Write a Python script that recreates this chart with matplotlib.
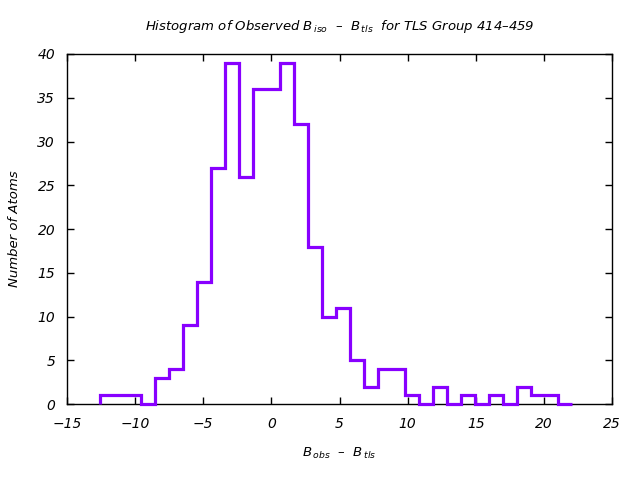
import numpy as np
import matplotlib
matplotlib.use("Agg")
import matplotlib.pyplot as plt

plt.rcParams['font.family'] = ['DejaVu Sans']
plt.rcParams['mathtext.fontset'] = 'dejavusans'
plt.rcParams['mathtext.default'] = 'it'

bin_start = -12.6
bin_width = 1.02
counts = [1, 1, 1, 0, 3, 4, 9, 14, 27, 39, 26, 36, 36, 39, 32, 18, 10, 11, 5, 2,
          4, 4, 1, 0, 2, 0, 1, 0, 1, 0, 2, 1, 1, 0]
edges = bin_start + bin_width * np.arange(len(counts) + 1)

x_ticks = [-15, -10, -5, 0, 5, 10, 15, 20, 25]
y_ticks = [0, 5, 10, 15, 20, 25, 30, 35, 40]

fig = plt.figure(figsize=(6.4, 4.8), dpi=100)
ax = fig.add_axes([0.1047, 0.158, 0.8516, 0.7295])

ax.stairs(counts, edges, baseline=0, color='#8800ff', linewidth=2.3, zorder=4,
          clip_on=False)

ax.set_xlim(-15, 25)
ax.set_ylim(0, 40)
ax.set_xticks(x_ticks)
ax.set_yticks(y_ticks)
ax.tick_params(direction='in', top=True, right=True, length=5, width=1,
               labelsize=10)
ax.tick_params(axis='x', pad=9)
ax.tick_params(axis='y', pad=8.5)
for lab in ax.get_xticklabels() + ax.get_yticklabels():
    lab.set_fontstyle('italic')
for s in ax.spines.values():
    s.set_linewidth(1.0)
    s.set_zorder(3)

ax.set_title(r'Histogram of Observed $B_{\,iso}$  –  $B_{\,tls}$  for TLS Group 414–459',
             fontsize=9.5, style='italic', pad=17)
ax.set_xlabel(r'$B_{\,obs}$  –  $B_{\,tls}$', fontsize=9.5, style='italic', labelpad=11)
ax.set_ylabel('Number of Atoms', fontsize=9.5, style='italic', labelpad=12)

fig.savefig('out.png', dpi=100)
